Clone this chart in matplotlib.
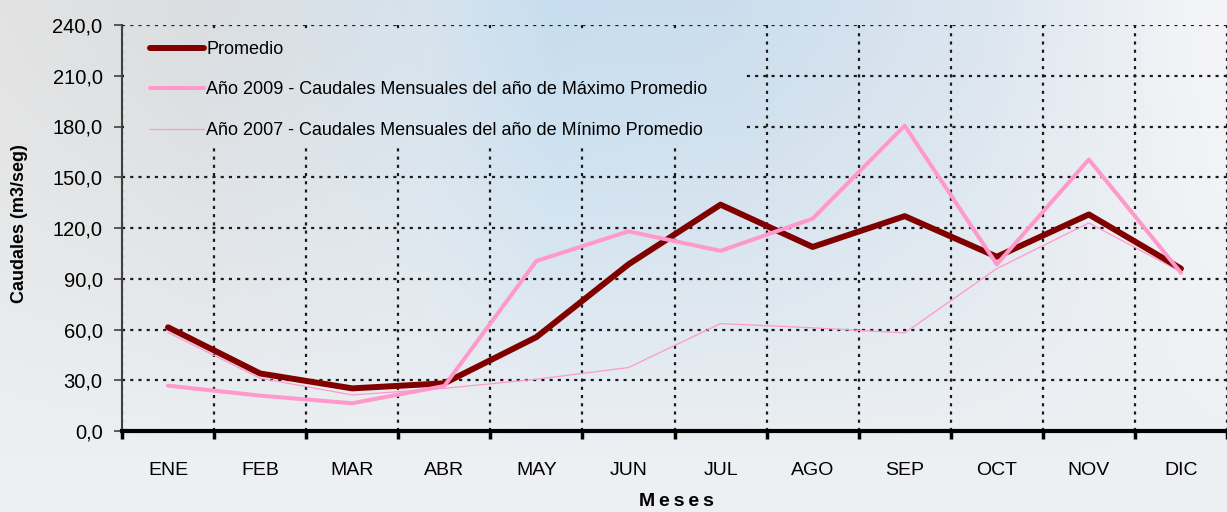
import numpy as np
import matplotlib
matplotlib.use("Agg")
import matplotlib.pyplot as plt
from matplotlib.ticker import FixedLocator, FuncFormatter

# ---------------- data ----------------
meses = ["ENE", "FEB", "MAR", "ABR", "MAY", "JUN", "JUL", "AGO", "SEP", "OCT", "NOV", "DIC"]
promedio = [61.3, 34.0, 25.2, 28.2, 55.5, 98.5, 133.8, 108.8, 127.0, 103.0, 128.0, 96.0]
max_2009 = [26.8, 20.9, 16.4, 26.6, 100.5, 118.0, 106.5, 125.5, 180.5, 98.5, 160.5, 93.5]
min_2007 = [58.2, 31.2, 21.3, 25.2, 30.6, 37.5, 63.5, 61.0, 58.0, 96.0, 123.0, 94.0]
y_ticks = [0, 30, 60, 90, 120, 150, 180, 210, 240]
labels = ["Promedio",
          "Año 2009 - Caudales Mensuales del año de Máximo Promedio",
          "Año 2007 - Caudales Mensuales del año de Mínimo Promedio"]

plt.rcParams['font.family'] = ['Liberation Sans', 'DejaVu Sans']

W, H = 1227, 512
fig = plt.figure(figsize=(W / 100, H / 100), dpi=100)

# ---------------- background gradient ----------------
xs = np.linspace(0, 1, W)
ys = np.linspace(0, 1, H)
cx = [0.0, 0.15, 0.35, 0.45, 0.6, 0.8, 0.95, 1.0]
cc = np.array([(0.89, 0.89, 0.89), (0.86, 0.87, 0.88), (0.84, 0.89, 0.93),
               (0.78, 0.87, 0.94), (0.80, 0.87, 0.93), (0.86, 0.90, 0.94),
               (0.94, 0.95, 0.96), (0.96, 0.96, 0.97)])
top = np.stack([np.interp(xs, cx, cc[:, k]) for k in range(3)], axis=1)
bottom = np.array([0.93, 0.94, 0.95])
w = np.clip(ys / 0.9, 0, 1) ** 1.4
bg = top[None, :, :] * (1 - w[:, None, None]) + bottom[None, None, :] * w[:, None, None]

bg_ax = fig.add_axes([0, 0, 1, 1], zorder=-10)
bg_ax.imshow(bg, aspect='auto', extent=(0, 1, 0, 1), origin='upper')
bg_ax.set_axis_off()

# ---------------- main axes ----------------
L, R, T, B = 122, 1227, 25, 431
ax = fig.add_axes([L / W, 1 - B / H, (R - L) / W, (B - T) / H])
ax.set_facecolor('none')
ax.set_xlim(0, 12)
ax.set_ylim(0, 240)

xc = np.arange(len(meses)) + 0.5
l1, = ax.plot(xc, promedio, color='#800000', lw=4.3, zorder=3, solid_capstyle='round')
l2, = ax.plot(xc, max_2009, color='#ff99cc', lw=2.9, zorder=4, solid_capstyle='round')
l3, = ax.plot(xc, min_2007, color='#ff99cc', lw=0.9, zorder=2)

ax.yaxis.set_major_locator(FixedLocator(y_ticks))
ax.yaxis.set_major_formatter(FuncFormatter(lambda v, p: f"{v:.1f}".replace('.', ',')))
ax.xaxis.set_major_locator(FixedLocator(np.arange(0, 13)))
ax.xaxis.set_minor_locator(FixedLocator(xc))
ax.xaxis.set_major_formatter(FuncFormatter(lambda v, p: ""))
ax.xaxis.set_minor_formatter(FuncFormatter(lambda v, p: meses[int(v)] if 0 <= int(v) < 12 else ""))

ax.tick_params(axis='y', which='major', length=6, width=1.2, color='#404040',
               labelsize=14.5, pad=8)
ax.tick_params(axis='x', which='major', length=6, width=2.5, color='black', direction='out')
ax.tick_params(axis='x', which='minor', length=0, labelsize=14, pad=22)

grid_kw = dict(color='#1a1a1a', lw=1.6, linestyle=(0, (1.4, 2.3)))
ax.grid(True, axis='y', which='major', **grid_kw)
ax.grid(True, axis='x', which='major', **grid_kw)

for s in ['top', 'right']:
    ax.spines[s].set_visible(False)
ax.spines['left'].set_color('#404040')
ax.spines['left'].set_linewidth(1.5)
ax.spines['bottom'].set_color('black')
ax.spines['bottom'].set_linewidth(3.0)

fig.text(20 / W, 1 - 224 / H, "Caudales (m3/seg)", rotation=90, ha='center', va='center',
         fontsize=13, fontweight='bold')
fig.text(676 / W, 1 - 501 / H, "M e s e s".replace(" ", "\u2009"), ha='center', va='center',
         fontsize=14, fontweight='bold')

# ---------------- legend area (covers the grid like the original) ----------------
lx0, lx1, ly0, ly1 = 124, 745, 29, 148
lax = fig.add_axes([lx0 / W, 1 - ly1 / H, (lx1 - lx0) / W, (ly1 - ly0) / H], zorder=5)
lax.imshow(bg[ly0:ly1, lx0:lx1], aspect='auto', extent=(0, 1, 0, 1), origin='upper')
lax.set_xlim(0, 1)
lax.set_ylim(0, 1)
lax.set_axis_off()
leg = lax.legend(handles=[l1, l2, l3], labels=labels, loc='upper left',
                 bbox_to_anchor=(26 / (lx1 - lx0), 1 - 12 / (ly1 - ly0)),
                 frameon=False, fontsize=13, handlelength=3.0, handletextpad=0.12,
                 labelspacing=1.3, borderpad=0, borderaxespad=0)

fig.savefig("out.png", dpi=100)
